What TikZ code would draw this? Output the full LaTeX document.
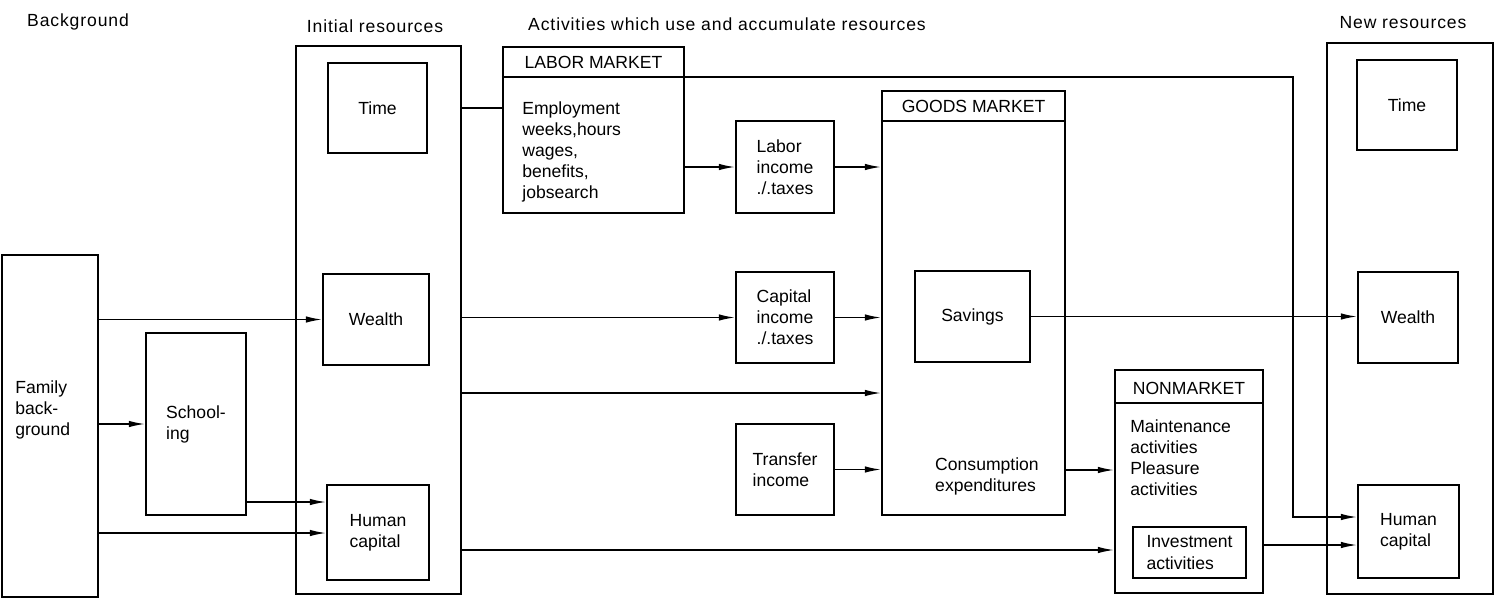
\documentclass[tikz,border=0pt]{standalone}
\usepackage{fontspec}
\setmainfont{Liberation Sans}
\usetikzlibrary{positioning, arrows.meta, calc}

\begin{document}
\begin{tikzpicture}[
        x=0.02cm, y=-0.02cm,
        every node/.style={font=\fontsize{10}{12}\selectfont},
        title/.style={font=\fontsize{10}{12}\selectfont\addfontfeature{LetterSpace=5}},
        box/.style={rectangle, draw=black, line width=1.3pt, align=left, inner sep=2pt},
        lbl/.style={align=left, inner sep=0pt},
        link/.style={line width=0.8pt},
        flow/.style={link, -{Latex[length=3.2mm, width=1.3mm]}},
        hline/.style={line width=1.1pt},
    ]
    \useasboundingbox (0,0) rectangle (1505,603);

    % Column titles
    \node[title] (tbg) at (78,22) {Background};
    \node[title] (tinit) at (375,26) {Initial resources};
    \node[title] (tact) at (727,24) {Activities which use and accumulate resources};
    \node[title] (tnew) at (1403,23) {New resources};

    % Background
    \node[box, minimum width=1.92cm, minimum height=6.84cm] (fam) at (50,426) {};
    \node[lbl, anchor=west] (famtxt) at (15,410) {Family\\back-\\ground};
    \node[box, minimum width=2cm, minimum height=3.64cm] (school) at (196,424) {School-\\ing};

    % Initial resources
    \node[box, minimum width=3.3cm, minimum height=10.96cm] (init) at (378.5,320) {};
    \node[box, minimum width=1.98cm, minimum height=1.8cm] (tim1) at (377.5,108) {Time};
    \node[box, minimum width=2.12cm, minimum height=1.82cm] (wea1) at (376,319.5) {Wealth};
    \node[box, minimum width=2.04cm, minimum height=1.9cm] (hum1) at (378,532.5) {Human\\capital};

    % Labor market
    \node[box, minimum width=3.62cm, minimum height=3.32cm] (labor) at (593.5,130) {};
    \draw[hline] (labor.west |- 0,77) -- (labor.east |- 0,77);
    \node (labhead) at (593.5,62) {LABOR MARKET};
    \node[lbl, anchor=north west] (labtxt) at (522,101) {Employment\\weeks,hours\\wages,\\benefits,\\jobsearch};

    % Incomes
    \node[box, minimum width=1.96cm, minimum height=1.84cm] (labinc) at (785,167) {Labor\\income\\./.taxes};
    \node[box, minimum width=1.96cm, minimum height=1.82cm] (capinc) at (785,317.5) {Capital\\income\\./.taxes};
    \node[box, minimum width=1.96cm, minimum height=1.82cm] (trans) at (785,469.5) {Transfer\\income};

    % Goods market
    \node[box, minimum width=3.66cm, minimum height=8.48cm] (goods) at (973.5,303) {};
    \draw[hline] (goods.west |- 0,121) -- (goods.east |- 0,121);
    \node (goodhead) at (973.5,106) {GOODS MARKET};
    \node[box, minimum width=2.3cm, minimum height=1.82cm] (sav) at (972.5,316.5) {Savings};
    \node[lbl] (cons) at (987,476) {Consumption\\expenditures};

    % Nonmarket
    \node[box, minimum width=2.96cm, minimum height=4.46cm] (nonm) at (1189,481.5) {};
    \draw[hline] (nonm.west |- 0,403) -- (nonm.east |- 0,403);
    \node (nonhead) at (1189,388) {NONMARKET};
    \node[lbl, anchor=north west] (nontxt) at (1130,419) {Maintenance\\activities\\Pleasure\\activities};
    \node[box, line width=1pt, minimum width=2.26cm, minimum height=1.02cm] (invest) at (1189.5,552.5) {Investment\\activities};

    % New resources
    \node[box, minimum width=3.32cm, minimum height=11.02cm] (newres) at (1410,318.5) {};
    \node[box, minimum width=2cm, minimum height=1.8cm] (tim2) at (1407,105) {Time};
    \node[box, minimum width=2cm, minimum height=1.82cm] (wea2) at (1408,317.5) {Wealth};
    \node[box, minimum width=2.02cm, minimum height=1.86cm] (hum2) at (1408.5,531.5) {Human\\capital};

    \coordinate (turn) at (1293,77);

    % Connectors
    \draw[link] (init.east |- tim1) -- (labor.west |- tim1);
    \draw[flow] (labor.east |- labinc) -- (labinc.west);
    \draw[flow] (labinc.east) -- (goods.west |- labinc);
    \draw[flow] (fam.east |- wea1) -- (wea1.west);
    \draw[flow] (init.east |- capinc) -- (capinc.west);
    \draw[flow] (capinc.east) -- (goods.west |- capinc);
    \draw[flow] (init.east |- 0,393) -- (goods.west |- 0,393);
    \draw[flow] (trans.east) -- (goods.west |- trans);
    \draw[flow] (fam.east |- school) -- (school.west);
    \draw[flow] (school.east |- 0,502) -- (hum1.west |- 0,502);
    \draw[flow] (fam.east |- 0,533) -- (hum1.west |- 0,533);
    \draw[flow] (sav.east) -- (wea2.west |- sav);
    \draw[flow] (labor.east |- turn) -- (turn) |- (hum2.west |- 0,517);
    \draw[flow] (goods.east |- 0,470) -- (nonm.west |- 0,470);
    \draw[flow] (init.east |- 0,550) -- (nonm.west |- 0,550);
    \draw[flow] (nonm.east |- 0,545) -- (hum2.west |- 0,545);
\end{tikzpicture}
\end{document}
